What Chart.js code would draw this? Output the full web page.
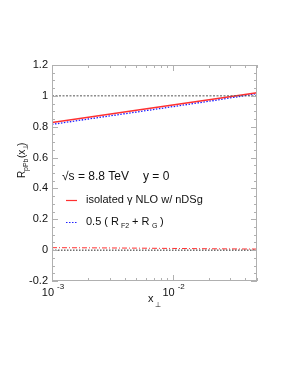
<!DOCTYPE html>
<html>
<head>
<meta charset="utf-8">
<script src="https://cdn.jsdelivr.net/npm/chart.js@4/dist/chart.umd.min.js"></script>
<style>
  html, body { margin: 0; padding: 0; background: #fff; }
  #wrap { width: 295px; height: 382px; position: relative; }
</style>
</head>
<body>
<div id="wrap"><canvas id="rChart" width="295" height="382"></canvas></div>
<script>
// data
var xVals      = [0.001, 0.002, 0.005, 0.01, 0.02, 0.05];
var nloVals    = [0.828, 0.862, 0.907, 0.941, 0.975, 1.020];   // isolated gamma NLO w/ nDSg
var halfRVals  = [0.815, 0.850, 0.895, 0.930, 0.965, 1.014];   // 0.5 (R_F2 + R_G)
var lowVals    = [0.016, 0.015, 0.013, 0.011, 0.009, 0.007];   // red dash-dot near zero
var refX       = [0.001, 0.05];
var oneVals    = [1, 1];
var zeroVals   = [0, 0];
var yTicks     = [-0.2, 0, 0.2, 0.4, 0.6, 0.8, 1, 1.2];
var yTickText  = ['-0.2', '0', '0.2', '0.4', '0.6', '0.8', '1', '1.2'];
var xDecades   = [0.001, 0.01];
var xDecText   = ['-3', '-2'];

function pts(xs, ys) {
    return xs.map(function (x, i) { return { x: x, y: ys[i] }; });
}

var FONT = '"Liberation Sans", Arial, sans-serif';

// draw ticks pointing inward and the labels, using the chart scales
var framePlugin = {
    id: 'frame',
    afterDraw: function (chart) {
        var c = chart.ctx, a = chart.chartArea;
        var xs = chart.scales.x, ys = chart.scales.y;
        c.save();
        c.strokeStyle = '#b0b0b0';
        c.lineWidth = 1;
        c.strokeRect(a.left + 0.5, a.top + 0.5, a.right - a.left - 1, a.bottom - a.top - 1);

        // y ticks (major every 0.2, minor every 0.05)
        c.beginPath();
        for (var v = -0.2; v <= 1.2001; v += 0.05) {
            var py = Math.round(ys.getPixelForValue(v)) + 0.5;
            var major = Math.abs(Math.round(v / 0.2) * 0.2 - v) < 1e-6;
            var len = major ? 6 : 3;
            c.moveTo(a.left, py); c.lineTo(a.left + len, py);
            c.moveTo(a.right, py); c.lineTo(a.right - len, py);
        }
        // x ticks (log)
        for (var d = -3; d <= -2; d++) {
            for (var m = 1; m <= 9; m++) {
                var xv = m * Math.pow(10, d);
                if (xv > 0.05 + 1e-9) break;
                var px = Math.round(xs.getPixelForValue(xv)) + 0.5;
                var l2 = m === 1 ? 6 : 3;
                c.moveTo(px, a.bottom); c.lineTo(px, a.bottom - l2);
                c.moveTo(px, a.top); c.lineTo(px, a.top + l2);
            }
        }
        c.stroke();

        c.fillStyle = '#111';
        c.font = '11px ' + FONT;
        c.textAlign = 'right';
        c.textBaseline = 'middle';
        yTicks.forEach(function (t, i) {
            c.fillText(yTickText[i], a.left - 4, ys.getPixelForValue(t));
        });

        xDecades.forEach(function (t, i) {
            var px = xs.getPixelForValue(t);
            c.textAlign = 'right';
            c.font = '11px ' + FONT;
            c.fillText('10', px + 2, a.bottom + 12);
            c.textAlign = 'left';
            c.font = '8px ' + FONT;
            c.fillText(xDecText[i], px + 5, a.bottom + 6);
        });

        // x title
        c.textAlign = 'left';
        c.font = '11px ' + FONT;
        c.fillText('x', 148, 299);
        c.font = '7px ' + FONT;
        c.fillText('\u22a5', 155, 305);

        // y title (rotated)
        c.save();
        c.translate(22, 178);
        c.rotate(-Math.PI / 2);
        c.textAlign = 'left';
        c.font = '10px ' + FONT;
        c.fillText('R', 0, 0);
        c.font = '7px ' + FONT;
        c.fillText('pPb', 7, 4);
        c.font = '10px ' + FONT;
        c.fillText('(x', 20, 0);
        c.font = '7px ' + FONT;
        c.fillText('\u22a5', 28, 4);
        c.font = '10px ' + FONT;
        c.fillText(')', 32, 0);
        c.restore();

        // annotation
        c.textAlign = 'left';
        c.font = '12px ' + FONT;
        c.fillText('\u221as = 8.8 TeV', 62, 177);
        c.fillText('y = 0', 143, 177);

        // legend
        c.font = '11px ' + FONT;
        c.strokeStyle = '#ff3030';
        c.lineWidth = 1.2;
        c.setLineDash([]);
        c.beginPath(); c.moveTo(66, 200.5); c.lineTo(77, 200.5); c.stroke();
        c.fillText('isolated \u03b3 NLO w/ nDSg', 86, 200);

        c.strokeStyle = '#2020ff';
        c.setLineDash([1.5, 1.5]);
        c.beginPath(); c.moveTo(66, 222.5); c.lineTo(77, 222.5); c.stroke();
        c.setLineDash([]);
        c.fillText('0.5 ( R', 86, 222);
        c.font = '7px ' + FONT;
        c.fillText('F2', 121, 226);
        c.font = '11px ' + FONT;
        c.fillText('+ R', 132, 222);
        c.font = '7px ' + FONT;
        c.fillText('G', 152, 226);
        c.font = '11px ' + FONT;
        c.fillText(')', 160, 222);
        c.restore();
    }
};

var ctx = document.getElementById('rChart').getContext('2d');

var rChart = new Chart(ctx, {
    type: 'line',
    data: {
        datasets: [
            {
                label: 'ref1',
                data: pts(refX, oneVals),
                borderColor: '#555',
                borderWidth: 1,
                borderDash: [2, 1.5],
                pointRadius: 0
            },
            {
                label: 'ref0',
                data: pts(refX, zeroVals),
                borderColor: '#222',
                borderWidth: 1,
                borderDash: [1.5, 1.5],
                pointRadius: 0
            },
            {
                label: 'low',
                data: pts(xVals, lowVals),
                borderColor: '#ff3030',
                borderWidth: 1,
                borderDash: [5, 2, 1, 2],
                pointRadius: 0
            },
            {
                label: 'isolated gamma NLO w/ nDSg',
                data: pts(xVals, nloVals),
                borderColor: '#ff3030',
                borderWidth: 1.5,
                pointRadius: 0
            },
            {
                label: '0.5 (RF2 + RG)',
                data: pts(xVals, halfRVals),
                borderColor: '#2020ff',
                borderWidth: 1.3,
                borderDash: [1.5, 1.5],
                pointRadius: 0
            }
        ]
    },
    options: {
        responsive: false,
        animation: false,
        layout: { padding: { left: 52, right: 38, top: 65, bottom: 101 } },
        scales: {
            x: {
                type: 'logarithmic',
                display: false,
                min: 0.001,
                max: 0.05
            },
            y: {
                type: 'linear',
                display: false,
                min: -0.2,
                max: 1.2
            }
        },
        plugins: {
            legend: { display: false },
            tooltip: { enabled: false }
        }
    },
    plugins: [framePlugin]
});
</script>
</body>
</html>
